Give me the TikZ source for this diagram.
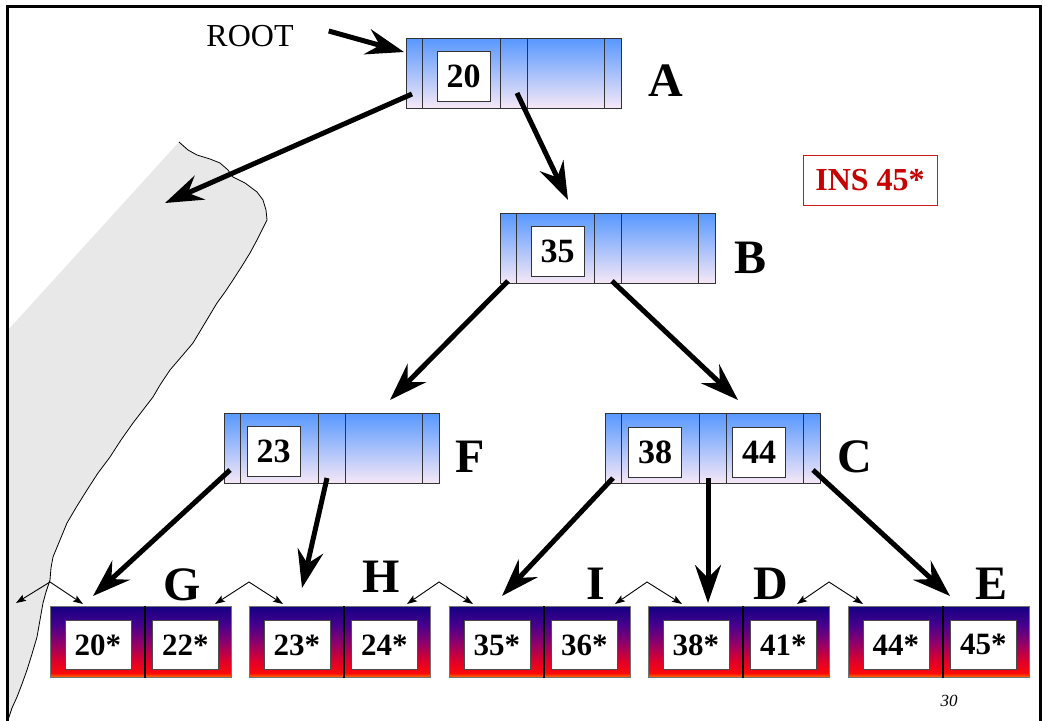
\documentclass[tikz,border=0pt]{standalone}
\usepackage{fontspec}
\setmainfont{Liberation Serif}
\usetikzlibrary{arrows.meta,calc}
\definecolor{ntop}{RGB}{88,152,255}
\definecolor{nbot}{RGB}{246,232,246}
\definecolor{lorange}{RGB}{255,120,0}
\definecolor{lred}{RGB}{250,10,10}
\definecolor{lredb}{RGB}{225,0,40}
\definecolor{lpurple}{RGB}{140,0,110}
\definecolor{lviolet}{RGB}{70,0,140}
\definecolor{lnavy}{RGB}{20,0,130}
\definecolor{shapegray}{RGB}{232,232,232}
\definecolor{insred}{RGB}{200,0,0}
\pgfdeclareverticalshading{leafshade}{100bp}{color(0bp)=(lorange); color(25bp)=(lorange); color(28bp)=(lred); color(36bp)=(lredb); color(50bp)=(lpurple); color(62bp)=(lviolet); color(75bp)=(lnavy); color(100bp)=(lnavy)}
\tikzset{
  inode/.style={draw=black!80, line width=0.8pt, top color=ntop, bottom color=nbot, minimum width=215pt, minimum height=70pt, inner sep=0pt, anchor=north west},
  slotline/.style={draw=black!80, line width=0.8pt},
  keybox/.style={draw=black!80, line width=0.8pt, fill=white, minimum width=53pt, minimum height=50pt, inner sep=0pt, font=\fontsize{34}{34}\selectfont\bfseries},
  lpage/.style={draw=black!55, line width=0.8pt, shading=leafshade, minimum height=71pt, inner sep=0pt, anchor=north west},
  lkey/.style={draw=black!70, line width=0.8pt, fill=white, minimum width=66pt, minimum height=49pt, inner sep=0pt, font=\fontsize{31}{31}\selectfont\bfseries},
  lab/.style={font=\fontsize{48}{48}\selectfont\bfseries, anchor=base, inner sep=0pt},
  big/.style={line width=5pt, -{Stealth[length=38pt,width=26pt,inset=13pt]}},
  sib/.style={line width=0.9pt, {Stealth[length=10pt,width=7pt,inset=2pt]}-{Stealth[length=10pt,width=7pt,inset=2pt]}}
}
\newcommand\mkinner[3]{%
  \node[inode] (#1) at (#2,#3) {};
  \foreach \o in {16,94,121,198}
    \draw[slotline] ($(#1.north west)+(\o,0)$) -- ($(#1.south west)+(\o,0)$);
}
\newcommand\mkleaf[4]{%
  \node[lpage, minimum width=95pt] (#1a) at (#2,606) {};
  \node[lpage, minimum width=86pt] (#1b) at (#2+95,606) {};
  \draw[line width=1.6pt] (#1b.north west) -- (#1b.south west);
  \node[lkey] (#1a-k) at ($(#1a.center)+(0,3)$) {#3};
  \node[lkey] (#1b-k) at ($(#1b.center)+(-3,3)$) {#4};
}
\begin{document}
\begin{tikzpicture}[x=1pt,y=-1pt]
\useasboundingbox (0,0) rectangle (1046,720);
% gray region
\fill[shapegray] (179,142) -- (188,150) -- (197,155) -- (210,159) -- (220,163) -- (228,170) -- (233,177) -- (245,183) -- (257,192) -- (263,200) -- (266,210) -- (267,220) -- (262,230) -- (257,240) -- (250,253) -- (242,266) -- (233,280) -- (225,292) -- (217,303) -- (205,323) -- (193,343) -- (182,356) -- (170,370) -- (160,385) -- (153,397) -- (143,410) -- (133,423) -- (121,440) -- (110,457) -- (98,473) -- (87,490) -- (77,506) -- (67,523) -- (60,540) -- (53,557) -- (51,568) -- (50,580) -- (46,592) -- (43,603) -- (40,620) -- (37,637) -- (32,654) -- (27,670) -- (22,684) -- (17,697) -- (12,708) -- (8,720) -- (8,330) -- cycle;
\draw[line width=0.8pt] (179,142) -- (188,150) -- (197,155) -- (210,159) -- (220,163) -- (228,170) -- (233,177) -- (245,183) -- (257,192) -- (263,200) -- (266,210) -- (267,220) -- (262,230) -- (257,240) -- (250,253) -- (242,266) -- (233,280) -- (225,292) -- (217,303) -- (205,323) -- (193,343) -- (182,356) -- (170,370) -- (160,385) -- (153,397) -- (143,410) -- (133,423) -- (121,440) -- (110,457) -- (98,473) -- (87,490) -- (77,506) -- (67,523) -- (60,540) -- (53,557) -- (51,568) -- (50,580) -- (46,592) -- (43,603) -- (40,620) -- (37,637) -- (32,654) -- (27,670) -- (22,684) -- (17,697) -- (12,708) -- (8,720);
% frame
\draw[line width=3pt] (7,722) -- (7,6) -- (1040,6) -- (1040,722);
% inner nodes
\mkinner{A}{406}{38}
\node[keybox] (A-k1) at ($(A.north west)+(57.5,38.5)$) {20};
\mkinner{B}{500}{213}
\node[keybox] (B-k1) at ($(B.north west)+(57.5,38.5)$) {35};
\mkinner{F}{224}{413}
\node[keybox] (F-k1) at ($(F.north west)+(49.5,38.5)$) {23};
\mkinner{C}{605}{413}
\node[keybox] (C-k1) at ($(C.north west)+(50,39)$) {38};
\node[keybox] (C-k2) at ($(C.north west)+(154,39)$) {44};
% leaves
\mkleaf{G}{50}{20*}{22*}
\mkleaf{H}{249}{23*}{24*}
\mkleaf{I}{449}{35*}{36*}
\mkleaf{D}{648}{38*}{41*}
\mkleaf{E}{848}{44*}{45*}
% labels
\node[lab] (lA) at (666,96) {A};
\node[lab] (lB) at (750,273) {B};
\node[lab] (lF) at (470,472) {F};
\node[lab] (lC) at (855,472) {C};
\node[lab] (lG) at (182,600) {G};
\node[lab] (lH) at (381,592) {H};
\node[lab] (lI) at (596,599) {I};
\node[lab] (lD) at (771,599) {D};
\node[lab] (lE) at (991,599) {E};
\node[font=\fontsize{32}{32}\selectfont, anchor=base, inner sep=0pt] (root) at (250,46) {ROOT};
\node[draw=insred!90, line width=0.8pt, text=insred, font=\fontsize{32}{32}\selectfont\bfseries, minimum width=134pt, minimum height=50pt, inner sep=0pt] (ins) at (870,180) {INS 45*};
\node[font=\fontsize{17}{17}\selectfont\itshape, inner sep=0pt] (pg) at (949,701) {30};
% tree pointers
\coordinate (shapetip) at (165,203);
\draw[big] ($(root.base east)+(35,-15)$) -- ($(A.north west)+(-2,14)$);
\draw[big] ($(A.north west)+(6,56)$) -- (shapetip);
\draw[big] ($(A.north west)+(111,55)$) -- ($(B.north west)+(68,-13)$);
\draw[big] ($(B.north west)+(8,68)$) -- ($(F.north west)+(166,-13)$);
\draw[big] ($(B.north west)+(112,68)$) -- ($(C.north west)+(133,-13)$);
\draw[big] ($(F.north west)+(6,57)$) -- ($(Ga.north west)+(43,-10)$);
\draw[big] ($(F.north west)+(103,65)$) -- ($(Ha.north west)+(53,-18)$);
\draw[big] ($(C.north west)+(8,65)$) -- ($(Ia.north west)+(53,-10)$);
\draw[big] ($(C.north west)+(103,65)$) -- ($(Da.north west)+(60,-3)$);
\draw[big] ($(C.north west)+(208,57)$) -- ($(Eb.north west)+(7,-10)$);
% sibling pointers
\coordinate (prevleaf) at (16,603);
\draw[sib] (prevleaf) -- (50,582) -- ($(Ga.north west)+(33,-2)$);
\draw[sib] ($(Gb.north west)+(70,-2)$) -- (249,582) -- ($(Ha.north west)+(34,-2)$);
\draw[sib] ($(Hb.north west)+(63,-2)$) -- (439,582) -- ($(Ia.north west)+(24,-2)$);
\draw[sib] ($(Ib.north west)+(71,-2)$) -- (647,582) -- ($(Da.north west)+(34,-2)$);
\draw[sib] ($(Db.north west)+(54,-2)$) -- (829,582) -- ($(Ea.north west)+(15,-2)$);
\end{tikzpicture}
\end{document}
